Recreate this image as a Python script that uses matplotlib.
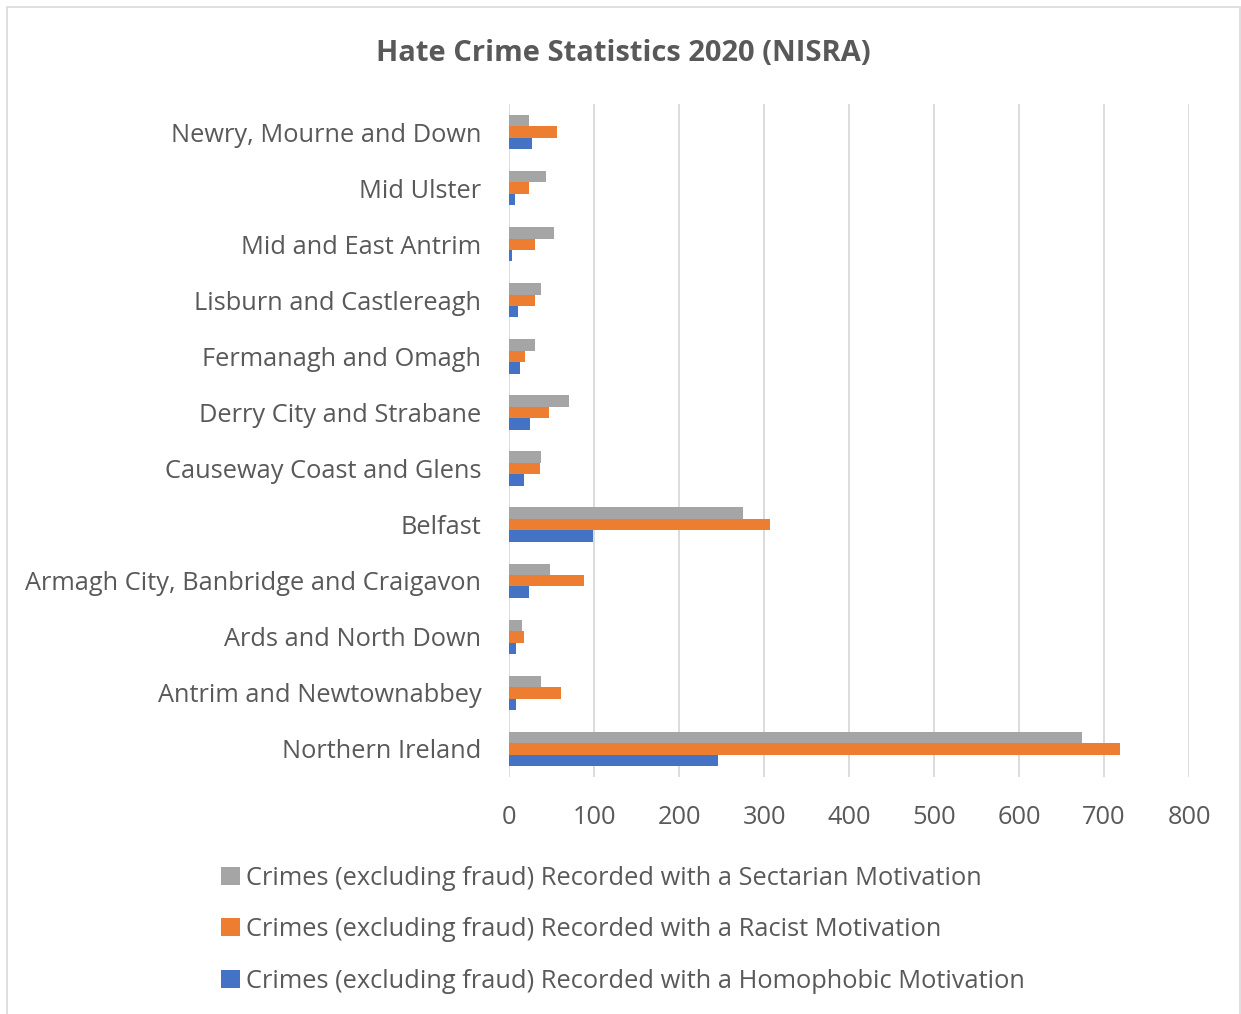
import matplotlib

matplotlib.use("Agg")
import matplotlib.pyplot as plt
import numpy as np
from matplotlib.patches import Patch, Rectangle

# bottom-to-top order, as the category axis is drawn
districts = [
    "Northern Ireland",
    "Antrim and Newtownabbey",
    "Ards and North Down",
    "Armagh City, Banbridge and Craigavon",
    "Belfast",
    "Causeway Coast and Glens",
    "Derry City and Strabane",
    "Fermanagh and Omagh",
    "Lisburn and Castlereagh",
    "Mid and East Antrim",
    "Mid Ulster",
    "Newry, Mourne and Down",
]
sectarian = [674, 37, 15, 48, 275, 37, 71, 30, 37, 53, 43, 23]
racist = [719, 61, 17, 88, 307, 36, 47, 19, 30, 30, 24, 56]
homophobic = [246, 8, 8, 24, 99, 18, 25, 13, 10, 3, 7, 27]

series_labels = [
    "Crimes (excluding fraud) Recorded with a Sectarian Motivation",
    "Crimes (excluding fraud) Recorded with a Racist Motivation",
    "Crimes (excluding fraud) Recorded with a Homophobic Motivation",
]
colors = ["#A5A5A5", "#ED7D31", "#4472C4"]
text_color = "#595959"
font = ["Open Sans", "DejaVu Sans"]

plt.rcParams["font.family"] = font

fig = plt.figure(figsize=(12.41, 10.14), dpi=100)
ax = fig.add_axes([0.4102, 0.2337, 0.548, 0.6637])

y = np.arange(len(districts))
h = 0.204
for off, vals, c in zip([h, 0, -h], [sectarian, racist, homophobic], colors):
    ax.barh(y + off, vals, height=h, color=c, zorder=3)

ax.set_xlim(0, 800)
ax.set_ylim(-0.5, len(districts) - 0.5)
ax.set_xticks(range(0, 801, 100))
ax.set_yticks(y)
ax.set_yticklabels(districts)
ax.grid(axis="x", color="#D9D9D9", linewidth=1.3, zorder=0)
ax.tick_params(axis="both", length=0, labelsize=18.3, colors=text_color)
ax.tick_params(axis="y", pad=20)
ax.tick_params(axis="x", pad=20)
for s in ax.spines.values():
    s.set_visible(False)

fig.text(0.502, 0.947, "Hate Crime Statistics 2020 (NISRA)", ha="center", va="center",
         fontsize=21, fontweight="bold", color=text_color)

handles = [Patch(facecolor=c, edgecolor="none") for c in colors]
fig.legend(handles, series_labels, loc="upper left", bbox_to_anchor=(0.160, 0.169),
           frameon=False, fontsize=18.3, labelcolor=text_color, handlelength=0.72,
           handleheight=0.72, handletextpad=0.25, labelspacing=1.05)

# chart area border
fig.patches.append(Rectangle((0.006, -0.01), 0.993, 1.003, transform=fig.transFigure,
                             fill=False, edgecolor="#D9D9D9", linewidth=1.2))

fig.savefig("out.png", dpi=100)
